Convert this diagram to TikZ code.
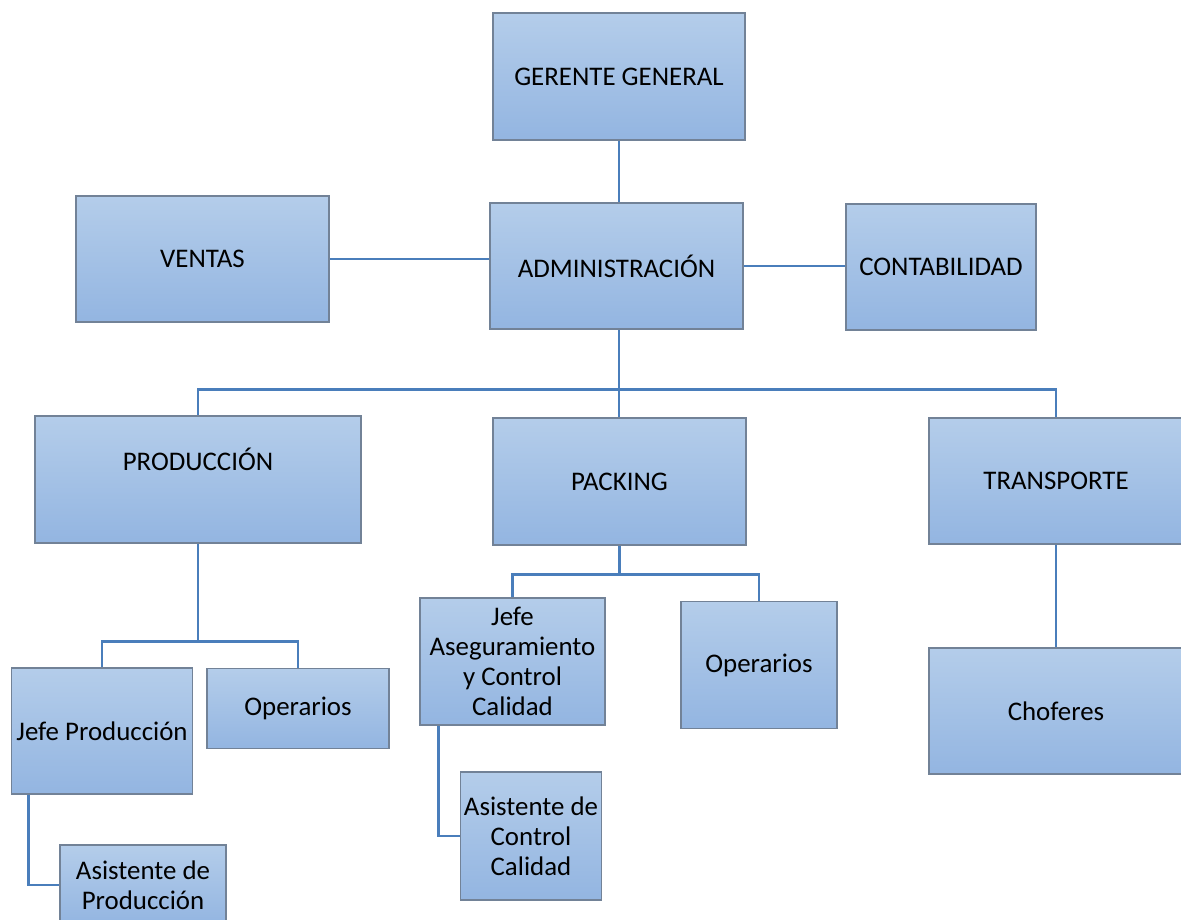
\documentclass[tikz,border=0pt]{standalone}
\usepackage{fontspec}
\setmainfont{Carlito}
\usetikzlibrary{calc,backgrounds}
\definecolor{boxtop}{HTML}{B4CDEA}
\definecolor{boxbot}{HTML}{93B5E1}
\definecolor{boxline}{HTML}{728297}
\definecolor{linkblue}{HTML}{4A7EBB}
\tikzset{
  orgbox/.style={draw=boxline, line width=0.8pt, top color=boxtop, bottom color=boxbot,
    rectangle, inner sep=1pt, align=center, font=\fontsize{15.3}{17}\selectfont},
  orgtext/.style={inner sep=0pt, align=center, font=\fontsize{15.3}{17}\selectfont},
  link/.style={draw=linkblue, line width=1.6pt}
}
\begin{document}
\begin{tikzpicture}[x=0.02cm, y=-0.02cm]
\clip (0,0) rectangle (1181,920);

% top level
\node[orgbox, minimum width=5.04cm, minimum height=2.54cm] (gg) at (619,76.5) {GERENTE GENERAL};
\node[orgbox, minimum width=5.06cm, minimum height=2.52cm] (adm) at (616.5,266) {ADMINISTRACIÓN};
\node[orgbox, minimum width=5.06cm, minimum height=2.52cm] (ven) at (202.5,259) {VENTAS};
\node[orgbox, minimum width=3.80cm, minimum height=2.52cm] (con) at (941,267) {CONTABILIDAD};

% departments
\node[orgbox, minimum width=6.52cm, minimum height=2.54cm] (prod) at (198,479.5) {};
\node[orgtext] (prodT) at (198,459) {PRODUCCIÓN};
\node[orgbox, minimum width=5.06cm, minimum height=2.54cm] (pack) at (619.5,481.5) {PACKING};
\node[orgbox, minimum width=5.08cm, minimum height=2.52cm] (tra) at (1056,481) {TRANSPORTE};

% production staff
\node[orgbox, minimum width=3.62cm, minimum height=2.52cm] (jp) at (102,731) {Jefe Producción};
\node[orgbox, minimum width=3.64cm, minimum height=1.60cm] (op1) at (298,708.5) {Operarios};
\node[orgbox, minimum width=3.32cm, minimum height=1.60cm] (ap) at (143,885) {Asistente de\\Producción};

% packing staff
\node[orgbox, minimum width=3.70cm, minimum height=2.54cm] (jac) at (512.5,661.5) {Jefe\\Aseguramiento\\y Control\\Calidad};
\node[orgbox, minimum width=3.12cm, minimum height=2.54cm] (op2) at (759,665) {Operarios};
\node[orgbox, minimum width=2.82cm, minimum height=2.56cm] (acc) at (531,836) {Asistente de\\Control\\Calidad};

% transport staff
\node[orgbox, minimum width=5.08cm, minimum height=2.52cm] (cho) at (1056,711) {Choferes};

\begin{scope}[on background layer]
  \fill[white] (0,0) rectangle (1181,920);
  % management links
  \draw[link] (gg.south) -- (gg.south |- adm.north);
  \draw[link] (ven.east) -- (ven.east -| adm.west);
  \draw[link] (adm.east) -- (adm.east -| con.west);
  % department bus
  \coordinate (busA) at ($(adm.south)+(2.5,60)$);
  \draw[link] (busA |- adm.south) -- (busA);
  \draw[link] (prod.north) |- (busA) -| (tra.north);
  \draw[link] (busA) -- (busA |- pack.north);
  % production bus
  \coordinate (busP) at ($(prod.south)+(0,98)$);
  \draw[link] (prod.south) -- (busP);
  \draw[link] (jp.north) |- (busP) -| (op1.north);
  \draw[link] (ap.west) -| ($(jp.south west)+(18,0)$);
  % packing bus
  \coordinate (busK) at ($(pack.south)+(0,29)$);
  \draw[link] (pack.south) -- (busK);
  \draw[link] (jac.north) |- (busK) -| (op2.north);
  \draw[link] (acc.west) -| ($(jac.south west)+(19,0)$);
  % transport
  \draw[link] (tra.south) -- (cho.north);
\end{scope}
\end{tikzpicture}
\end{document}
